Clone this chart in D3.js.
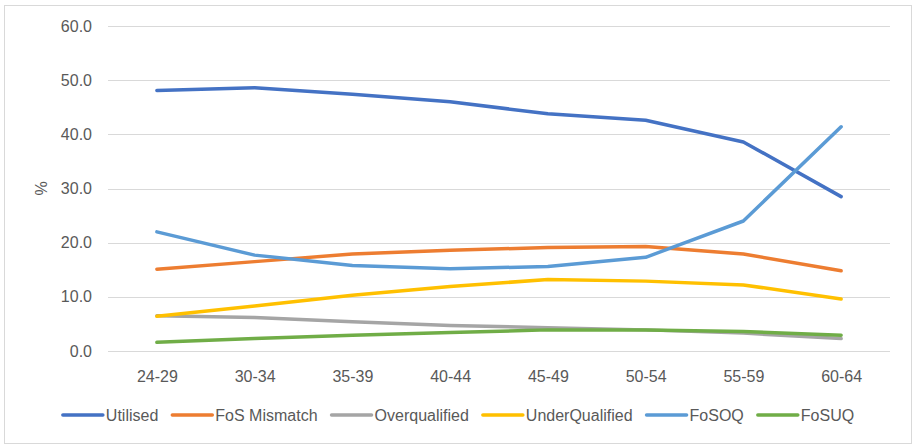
<!DOCTYPE html>
<html>
<head>
    <script src="https://d3js.org/d3.v7.min.js"></script>
</head>
<style>
body { margin: 0; background: #fff; }
svg text { font-family: "Liberation Sans", Arial, sans-serif; fill: #595959; }
</style>
<body>
<div id="chart"></div>
<script>
    // age bands
    var ageGroups = ["24-29", "30-34", "35-39", "40-44", "45-49", "50-54", "55-59", "60-64"];

    // series values (%)
    var utilised       = [48.1, 48.6, 47.4, 46.0, 43.8, 42.6, 38.6, 28.5];
    var fosMismatch    = [15.1, 16.5, 17.9, 18.6, 19.1, 19.3, 17.9, 14.8];
    var overqualified  = [6.5, 6.2, 5.4, 4.7, 4.3, 3.9, 3.3, 2.3];
    var underQualified = [6.4, 8.3, 10.3, 11.9, 13.2, 12.9, 12.2, 9.6];
    var fosoq          = [22.0, 17.7, 15.8, 15.2, 15.6, 17.3, 24.0, 41.4];
    var fosuq          = [1.6, 2.3, 2.9, 3.4, 3.9, 3.9, 3.6, 2.9];

    var yTicks = [0, 10, 20, 30, 40, 50, 60];

    var series = [
        {name: "Utilised",       values: utilised,       color: "#4472C4"},
        {name: "FoS Mismatch",   values: fosMismatch,    color: "#ED7D31"},
        {name: "Overqualified",  values: overqualified,  color: "#A5A5A5"},
        {name: "UnderQualified", values: underQualified, color: "#FFC000"},
        {name: "FoSOQ",          values: fosoq,          color: "#5B9BD5"},
        {name: "FoSUQ",          values: fosuq,          color: "#70AD47"}
    ];

    var width = 917, height = 448;
    var margin = {top: 26, right: 27, bottom: 97, left: 108};

    var svg = d3.select("#chart").append("svg")
        .attr("width", width)
        .attr("height", height);

    // chart frame
    svg.append("rect")
        .attr("x", 4.5).attr("y", 5.5)
        .attr("width", 907).attr("height", 438)
        .attr("fill", "#fff")
        .attr("stroke", "#D9D9D9");

    var x = d3.scalePoint()
        .domain(ageGroups)
        .range([margin.left, width - margin.right])
        .padding(0.5);

    var y = d3.scaleLinear()
        .domain([0, 60])
        .range([height - margin.bottom, margin.top]);

    // gridlines
    svg.append("g")
        .selectAll("line")
        .data(yTicks)
        .enter().append("line")
        .attr("x1", margin.left).attr("x2", width - margin.right)
        .attr("y1", d => Math.round(y(d)) + 0.5)
        .attr("y2", d => Math.round(y(d)) + 0.5)
        .attr("stroke", "#D9D9D9")
        .attr("stroke-width", 1);

    // y axis labels
    var yAxis = svg.append("g")
        .attr("transform", "translate(" + (margin.left - 16) + ",0)")
        .call(d3.axisLeft(y).tickValues(yTicks).tickFormat(d3.format(".1f")).tickSize(0).tickPadding(0));
    yAxis.select(".domain").remove();
    yAxis.selectAll("text").attr("font-size", "16px").style("font-family", null);

    // x axis labels
    var xAxis = svg.append("g")
        .attr("transform", "translate(0," + (height - margin.bottom) + ")")
        .call(d3.axisBottom(x).tickSize(0).tickPadding(20));
    xAxis.select(".domain").remove();
    xAxis.selectAll("text").attr("font-size", "16px").style("font-family", null);

    // y axis title
    svg.append("text")
        .attr("transform", "translate(47," + y(30) + ") rotate(-90)")
        .attr("text-anchor", "middle")
        .attr("font-size", "16px")
        .text("%");

    // lines
    var line = d3.line()
        .x((d, i) => x(ageGroups[i]))
        .y(d => y(d));

    svg.append("g")
        .selectAll("path")
        .data(series)
        .enter().append("path")
        .attr("d", d => line(d.values))
        .attr("fill", "none")
        .attr("stroke", d => d.color)
        .attr("stroke-width", 3.5)
        .attr("stroke-linecap", "round")
        .attr("stroke-linejoin", "round");

    // legend, laid out left to right then centered
    var legend = svg.append("g");
    var cursor = 0;
    series.forEach(function(s) {
        var item = legend.append("g").attr("transform", "translate(" + cursor + ",0)");
        item.append("line")
            .attr("x1", 0).attr("x2", 40)
            .attr("stroke", s.color)
            .attr("stroke-width", 3.5)
            .attr("stroke-linecap", "round");
        var t = item.append("text")
            .attr("x", 43)
            .attr("dy", "0.35em")
            .attr("font-size", "16px")
            .text(s.name);
        cursor += 43 + t.node().getComputedTextLength() + 14;
    });
    cursor -= 14;
    legend.attr("transform", "translate(" + ((width - cursor) / 2) + ",415)");
</script>
</body>
</html>
